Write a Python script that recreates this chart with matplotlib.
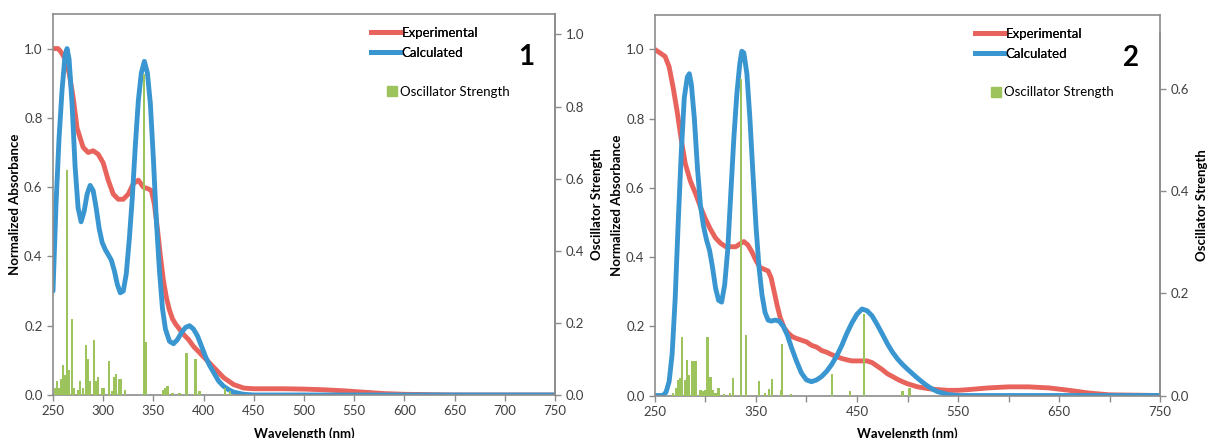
import numpy as np
import matplotlib.pyplot as plt
from matplotlib.lines import Line2D

plt.rcParams['font.family'] = ['Lato', 'DejaVu Sans']

RED = '#E8635C'
BLUE = '#3A96D0'
GREEN = '#9DC35C'
GRAY = '#8C8C8C'

# ---- compound 1 ----
wl1_exp = [250, 255, 258, 262, 266, 270, 274, 280, 285, 290,
           295, 300, 305, 310, 315, 320, 325, 330, 335, 340,
           345, 348, 351, 354, 357, 360, 363, 366, 369, 372,
           376, 380, 385, 390, 395, 400, 405, 410, 415, 420,
           425, 430, 435, 440, 450, 460, 480, 500, 520, 540,
           560, 580, 600, 650, 750]
exp1 = [1.0, 1.0, 0.99, 0.97, 0.93, 0.86, 0.77, 0.715, 0.70, 0.705,
        0.695, 0.67, 0.62, 0.58, 0.565, 0.565, 0.58, 0.61, 0.62, 0.60,
        0.595, 0.59, 0.55, 0.48, 0.40, 0.33, 0.28, 0.245, 0.22, 0.205,
        0.19, 0.175, 0.16, 0.14, 0.125, 0.11, 0.095, 0.08, 0.065, 0.05,
        0.04, 0.03, 0.025, 0.02, 0.018, 0.018, 0.018, 0.017, 0.015, 0.012,
        0.008, 0.004, 0.002, 0.0, 0.0]

wl1_calc = [250, 253, 256, 259, 262, 264, 266, 269, 272, 275,
            278, 281, 284, 287, 290, 293, 296, 299, 302, 305,
            308, 311, 314, 317, 320, 323, 326, 329, 332, 335,
            338, 341, 344, 347, 350, 353, 356, 359, 362, 366,
            370, 374, 378, 382, 386, 390, 394, 398, 402, 406,
            410, 415, 420, 425, 430, 440, 450, 500, 600, 750]
calc1 = [0.30, 0.55, 0.74, 0.88, 0.98, 1.0, 0.97, 0.84, 0.66, 0.54,
         0.50, 0.53, 0.58, 0.605, 0.59, 0.54, 0.48, 0.44, 0.42, 0.405,
         0.39, 0.36, 0.32, 0.295, 0.30, 0.35, 0.45, 0.57, 0.72, 0.85,
         0.93, 0.963, 0.93, 0.84, 0.68, 0.50, 0.36, 0.25, 0.19, 0.155,
         0.148, 0.16, 0.18, 0.195, 0.20, 0.19, 0.17, 0.14, 0.11, 0.085,
         0.065, 0.04, 0.025, 0.015, 0.008, 0.002, 0.0, 0.0, 0.0, 0.0]

osc1_wl = [252, 254, 256, 258, 260, 262, 264, 266, 269, 271,
           275, 277, 280, 283, 285, 287, 291, 293, 295, 299,
           301, 306, 309, 311, 313, 316, 318, 322, 341, 343,
           360, 362, 364, 369, 376, 383, 392, 396, 421, 426]
osc1 = [0.02, 0.04, 0.02, 0.045, 0.083, 0.055, 0.625, 0.07, 0.21, 0.02,
        0.015, 0.04, 0.02, 0.14, 0.10, 0.04, 0.153, 0.04, 0.05, 0.02,
        0.02, 0.095, 0.01, 0.05, 0.058, 0.045, 0.045, 0.015, 0.89, 0.148,
        0.015, 0.02, 0.025, 0.005, 0.005, 0.117, 0.10, 0.01, 0.02, 0.012]

# ---- compound 2 ----
wl2_exp = [250, 255, 260, 264, 268, 272, 276, 280, 285, 290,
           295, 300, 305, 310, 315, 320, 325, 330, 335, 338,
           342, 346, 350, 354, 358, 362, 365, 368, 371, 374,
           378, 382, 386, 390, 395, 400, 405, 410, 415, 420,
           425, 430, 435, 440, 445, 450, 455, 460, 465, 470,
           475, 480, 485, 490, 495, 500, 510, 520, 530, 540,
           550, 560, 580, 600, 620, 640, 660, 680, 700, 750]
exp2 = [1.0, 0.99, 0.98, 0.95, 0.89, 0.82, 0.74, 0.67, 0.62, 0.585,
        0.545, 0.51, 0.48, 0.455, 0.44, 0.43, 0.43, 0.43, 0.44, 0.445,
        0.435, 0.415, 0.39, 0.37, 0.365, 0.36, 0.34, 0.30, 0.26, 0.225,
        0.195, 0.18, 0.17, 0.165, 0.16, 0.155, 0.145, 0.14, 0.13, 0.125,
        0.118, 0.112, 0.107, 0.103, 0.10, 0.10, 0.10, 0.10, 0.095, 0.085,
        0.075, 0.063, 0.055, 0.047, 0.04, 0.034, 0.025, 0.02, 0.017, 0.015,
        0.015, 0.017, 0.022, 0.025, 0.025, 0.022, 0.015, 0.007, 0.002, 0.0]

wl2_calc = [250, 258, 261, 264, 267, 270, 273, 276, 279, 282,
            284, 286, 289, 292, 295, 298, 301, 304, 307, 310,
            313, 316, 319, 322, 325, 328, 331, 334, 336, 338,
            341, 344, 347, 350, 353, 356, 359, 362, 365, 369,
            373, 377, 381, 385, 390, 395, 400, 405, 410, 415,
            420, 425, 430, 435, 440, 445, 450, 455, 460, 465,
            470, 475, 480, 485, 490, 495, 500, 505, 510, 515,
            520, 525, 530, 540, 550, 750]
calc2 = [0.0, 0.0, 0.01, 0.04, 0.12, 0.28, 0.50, 0.70, 0.86, 0.92,
         0.93, 0.90, 0.80, 0.66, 0.55, 0.49, 0.45, 0.42, 0.37, 0.31,
         0.275, 0.27, 0.32, 0.42, 0.58, 0.74, 0.87, 0.96, 0.995, 0.99,
         0.93, 0.80, 0.64, 0.49, 0.37, 0.29, 0.24, 0.218, 0.215, 0.218,
         0.215, 0.20, 0.175, 0.14, 0.10, 0.065, 0.045, 0.04, 0.045, 0.055,
         0.07, 0.09, 0.115, 0.145, 0.18, 0.21, 0.235, 0.25, 0.245, 0.23,
         0.205, 0.178, 0.15, 0.126, 0.106, 0.09, 0.076, 0.063, 0.05, 0.038,
         0.027, 0.018, 0.011, 0.003, 0.0, 0.0]

osc2_wl = [268, 271, 273, 275, 277, 280, 282, 284, 287, 289,
           291, 295, 298, 300, 302, 305, 307, 310, 313, 318,
           324, 327, 335, 340, 353, 359, 363, 366, 375, 376,
           385, 425, 443, 457, 495, 502]
osc2 = [0.005, 0.015, 0.03, 0.035, 0.115, 0.03, 0.07, 0.04, 0.068, 0.068,
        0.068, 0.01, 0.008, 0.01, 0.114, 0.037, 0.01, 0.005, 0.015, 0.003,
        0.005, 0.035, 0.62, 0.118, 0.028, 0.005, 0.012, 0.033, 0.01, 0.10,
        0.003, 0.042, 0.008, 0.16, 0.008, 0.015]

x_ticks = np.arange(250, 751, 50)


def panel(rect, wl_e, e, wl_c, c, owl, o, ylim2, yticks2, spine_top, tag, every_label):
    ax = fig.add_axes(rect)
    ax.plot(wl_e, e, color=RED, lw=3.5, solid_joinstyle='round', solid_capstyle='round')
    ax.plot(wl_c, c, color=BLUE, lw=3.5, solid_joinstyle='round', solid_capstyle='round')
    ax.set_xlim(250, 750)
    ax.set_ylim(0, 1.1)
    ax.set_yticks(np.arange(0, 1.01, 0.2))
    ax.set_yticklabels(['%.1f' % v for v in np.arange(0, 1.01, 0.2)])
    ax.set_xticks(x_ticks)
    if every_label:
        ax.set_xticklabels([str(v) for v in x_ticks])
    else:
        ax.set_xticklabels([str(v) if (v - 250) % 100 == 0 else '' for v in x_ticks])
    ax.set_ylabel('Normalized Absorbance', fontsize=9.5, fontweight='bold', labelpad=2)
    ax.set_xlabel('Wavelength (nm)', fontsize=9.5, fontweight='bold', labelpad=7)

    ax2 = ax.twinx()
    ax2.bar(owl, o, width=2.2, color=GREEN)
    ax2.set_ylim(0, ylim2)
    ax2.set_yticks(yticks2)
    ax2.set_yticklabels(['%.1f' % v for v in yticks2])
    ax2.set_ylabel('Oscillator Strength', fontsize=9.5, fontweight='bold', labelpad=5)
    ax2.spines['right'].set_bounds(0, spine_top)

    for a in (ax, ax2):
        for s in a.spines.values():
            s.set_color(GRAY)
            s.set_linewidth(1.2)
        a.tick_params(colors=GRAY, labelcolor='#404040', labelsize=9.5, length=4, width=1)
    ax2.spines['top'].set_visible(False)
    ax2.spines['left'].set_visible(False)
    ax2.spines['bottom'].set_visible(False)

    h1 = [Line2D([], [], color=RED, lw=3.5), Line2D([], [], color=BLUE, lw=3.5)]
    leg = ax.legend(h1, ['Experimental', 'Calculated'], loc='upper left',
                    bbox_to_anchor=(0.633, 0.966), frameon=False, fontsize=9.5,
                    handlelength=2.3, handletextpad=0.05, labelspacing=0.62,
                    borderpad=0, borderaxespad=0)
    ax.add_artist(leg)
    h2 = [Line2D([], [], color=GREEN, marker='s', ls='none', markersize=6.5)]
    ax2.legend(h2, ['Oscillator Strength'], loc='upper left',
               bbox_to_anchor=(0.667, 0.812), frameon=False, fontsize=9.5,
               handlelength=0.6, handletextpad=0.3, borderpad=0, borderaxespad=0)
    ax2.text(0.943, 0.888, tag, transform=ax.transAxes, fontsize=20,
             fontweight='bold', ha='center', va='center', color='black')
    return ax, ax2


fig = plt.figure(figsize=(12.1, 4.38), dpi=100)

panel([0.0438, 0.0982, 0.4149, 0.870], wl1_exp, exp1, wl1_calc, calc1,
      osc1_wl, osc1, 1.057, [0, 0.2, 0.4, 0.6, 0.8, 1.0], 1.057, '1', True)
panel([0.5413, 0.097, 0.4174, 0.869], wl2_exp, exp2, wl2_calc, calc2,
      osc2_wl, osc2, 0.745, [0, 0.2, 0.4, 0.6], 0.71, '2', False)

fig.savefig('out.png', dpi=100)
